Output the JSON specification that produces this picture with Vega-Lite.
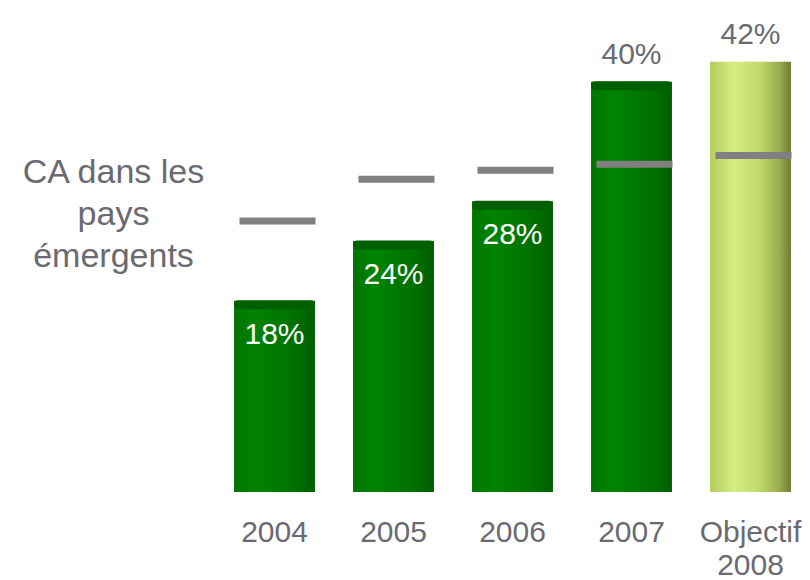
{
  "$schema": "https://vega.github.io/schema/vega-lite/v6.json",
  "autosize": "none",
  "width": 595,
  "height": 500,
  "padding": {"left": 215, "top": 0, "right": 0, "bottom": 80},
  "background": "white",
  "config": {
    "view": {"stroke": null},
    "font": "Liberation Sans"
  },
  "data": {
    "values": [
      {"annee": "2004", "ca": 18, "repere": 26.0, "type": "reel"},
      {"annee": "2005", "ca": 24, "repere": 30.2, "type": "reel"},
      {"annee": "2006", "ca": 28, "repere": 31.1, "type": "reel"},
      {"annee": "2007", "ca": 40, "repere": 31.7, "type": "reel"},
      {"annee": "Objectif 2008", "ca": 42, "repere": 32.6, "type": "objectif"}
    ]
  },
  "encoding": {
    "x": {
      "field": "annee",
      "type": "nominal",
      "sort": null,
      "scale": {"paddingInner": 0.32, "paddingOuter": 0.16},
      "axis": {
        "title": null,
        "labelAngle": 0,
        "domain": false,
        "ticks": false,
        "tickSize": 0,
        "labelPadding": 17,
        "labelBaseline": "top",
        "labelFont": "Liberation Sans",
        "labelFontSize": 30,
        "labelColor": "#6a6a72",
        "labelLineHeight": 33,
        "labelExpr": "datum.value == 'Objectif 2008' ? ['Objectif', '2008'] : datum.label"
      }
    }
  },
  "layer": [
    {
      "transform": [{"filter": "datum.type == 'reel'"}],
      "mark": {
        "type": "bar",
        "color": {
          "gradient": "linear",
          "x1": 0, "x2": 1, "y1": 0, "y2": 0,
          "stops": [
            {"offset": 0, "color": "#007400"},
            {"offset": 0.25, "color": "#008400"},
            {"offset": 0.6, "color": "#007700"},
            {"offset": 0.85, "color": "#006a00"},
            {"offset": 1, "color": "#005c00"}
          ]
        }
      },
      "encoding": {
        "y": {
          "field": "ca",
          "type": "quantitative",
          "scale": {"domain": [-2.0, 48.2], "nice": false, "zero": false},
          "axis": {
            "title": ["CA dans les", "pays", "émergents"],
            "titleAngle": 0,
            "titleAlign": "center",
            "titleBaseline": "alphabetic",
            "titleX": -102,
            "titleY": 182,
            "titleFont": "Liberation Sans",
            "titleFontSize": 34,
            "titleFontWeight": "normal",
            "titleColor": "#6a6a72",
            "titleLineHeight": 42,
            "labels": false,
            "ticks": false,
            "domain": false,
            "grid": false
          }
        },
        "y2": {"datum": -1.2}
      }
    },
    {
      "transform": [{"filter": "datum.type == 'objectif'"}],
      "mark": {
        "type": "bar",
        "color": {
          "gradient": "linear",
          "x1": 0, "x2": 1, "y1": 0, "y2": 0,
          "stops": [
            {"offset": 0, "color": "#b4cc5c"},
            {"offset": 0.3, "color": "#d6ec86"},
            {"offset": 0.6, "color": "#c2da6a"},
            {"offset": 0.85, "color": "#9aae50"},
            {"offset": 1, "color": "#6c7b38"}
          ]
        }
      },
      "encoding": {
        "y": {"field": "ca", "type": "quantitative"},
        "y2": {"datum": -1.2}
      }
    },
    {
      "transform": [{"filter": "datum.type == 'reel'"}],
      "mark": {"type": "tick", "orient": "horizontal", "color": "#005f00", "opacity": 1, "thickness": 9, "yOffset": 4, "cornerRadius": 4},
      "encoding": {
        "y": {"field": "ca", "type": "quantitative"},
        "size": {"value": 81}
      }
    },
    {
      "mark": {"type": "tick", "orient": "horizontal", "color": "#808080", "opacity": 1, "thickness": 7, "xOffset": 3},
      "encoding": {
        "y": {"field": "repere", "type": "quantitative"},
        "size": {"value": 76}
      }
    },
    {
      "transform": [{"filter": "datum.ca < 35"}],
      "mark": {"type": "text", "baseline": "top", "dy": 19, "fontSize": 30, "font": "Liberation Sans", "color": "white", "text": {"expr": "datum.ca + '%'"}},
      "encoding": {
        "y": {"field": "ca", "type": "quantitative"}
      }
    },
    {
      "transform": [{"filter": "datum.ca >= 35"}],
      "mark": {"type": "text", "baseline": "alphabetic", "dy": -18, "fontSize": 30, "font": "Liberation Sans", "color": "#6a6a72", "text": {"expr": "datum.ca + '%'"}},
      "encoding": {
        "y": {"field": "ca", "type": "quantitative"}
      }
    }
  ]
}
